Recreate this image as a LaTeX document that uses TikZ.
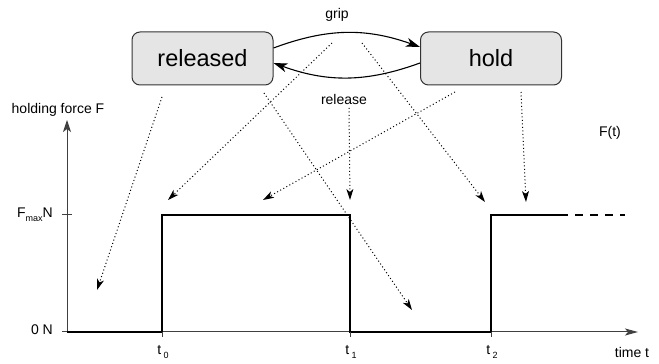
\documentclass[tikz,border=0pt]{standalone}
\usepackage{fontspec}
\setmainfont{Liberation Sans}
\usetikzlibrary{arrows.meta}
\tikzset{statebox/.style={rectangle, rounded corners=8pt, draw=black!80, fill=black!10, line width=1pt, minimum width=141pt, minimum height=53pt, font=\fontsize{23.5}{28}\selectfont}}
\tikzset{lbl/.style={inner sep=0pt, font=\fontsize{14}{16}\selectfont}}
\tikzset{transition/.style={line width=1.1pt, -{Stealth[length=14pt,width=9pt,inset=4pt]}}}
\tikzset{mapping/.style={line width=1pt, dash pattern=on 1pt off 2.5pt, -{Stealth[length=11pt,width=7pt,inset=3pt]}}}
\tikzset{axis/.style={line width=1pt, black!75}}
\tikzset{signal/.style={line width=1.1pt, black}}
\newcommand{\lowsub}[1]{\raisebox{-4pt}{\fontsize{9}{9}\selectfont #1}}

\begin{document}
\begin{tikzpicture}[x=1pt, y=1pt]
    \useasboundingbox (0,0) rectangle (659,364);

    % states
    \node [statebox](rel) at (202.5,305.5) {released};
    \node [statebox](hld) at (491,305.5) {hold};
    \node [lbl](grip) at (337,349) {grip};
    \node [lbl](relabel) at (344,264) {release};

    \draw[transition] ([yshift=10.5pt]rel.east) to[bend left=20] ([yshift=11.5pt]hld.west);
    \draw[transition] ([yshift=-4.5pt]hld.west) to[bend left=20] ([yshift=-4.5pt]rel.east);

    % axes
    \coordinate (O) at (67,32);
    \coordinate (Ytop) at (67,244);
    \coordinate (Xend) at (638,32);
    \draw[axis, -{Stealth[length=12pt,width=8pt,inset=3pt]}] (O) -- (Ytop);
    \draw[axis, -{Stealth[length=13pt,width=7pt,inset=3pt]}] (O) -- (Xend);
    \draw[axis] (62,149) -- (72,149);
    \draw[axis] (62,32) -- (O);

    \node [lbl](yname) at (58,254) {holding force F};
    \node [lbl, anchor=east](fmax) at (53,149) {F\lowsub{max}N};
    \node [lbl, anchor=east](zero) at (53,34) {0 N};
    \node [lbl](fname) at (610,231) {F(t)};
    \node [lbl](xname) at (632,12) {time t};

    % signal
    \coordinate (T0) at (162,32);
    \coordinate (T0h) at (162,149);
    \coordinate (T1) at (350,32);
    \coordinate (T1h) at (350,149);
    \coordinate (T2) at (491,32);
    \coordinate (T2h) at (491,149);
    \coordinate (Send) at (568,149);
    \coordinate (Dend) at (625,149);
    \draw[signal] (O) -- (T0) -- (T0h) -- (T1h) -- (T1) -- (T2) -- (T2h) -- (Send);
    \draw[signal, dash pattern=on 8pt off 7pt, dash phase=-7pt] (Send) -- (Dend);
    \draw[axis] (T0) -- ++(0,-5);
    \draw[axis] (T1) -- ++(0,-5);
    \draw[axis] (T2) -- ++(0,-5);
    \node [lbl](lt0) at (163,12) {t\,\lowsub{0}};
    \node [lbl](lt1) at (351,12) {t\,\lowsub{1}};
    \node [lbl](lt2) at (492,12) {t\,\lowsub{2}};

    % mappings from states and transitions to the signal
    \coordinate (m1s) at (162,267);
    \coordinate (m1e) at (97,74);
    \coordinate (m2s) at (264,271);
    \coordinate (m2e) at (412,54);
    \coordinate (m3s) at (332,321);
    \coordinate (m3e) at (168,164);
    \coordinate (m4s) at (362,321);
    \coordinate (m4e) at (485,162);
    \coordinate (m5s) at (349,256);
    \coordinate (m5e) at (350,164);
    \coordinate (m6s) at (455,272);
    \coordinate (m6e) at (263,164);
    \coordinate (m7s) at (521,272);
    \coordinate (m7e) at (526,162);
    \draw[mapping] (m1s) -- (m1e);
    \draw[mapping] (m2s) -- (m2e);
    \draw[mapping] (m3s) -- (m3e);
    \draw[mapping] (m4s) -- (m4e);
    \draw[mapping] (m5s) -- (m5e);
    \draw[mapping] (m6s) -- (m6e);
    \draw[mapping] (m7s) -- (m7e);
\end{tikzpicture}
\end{document}
